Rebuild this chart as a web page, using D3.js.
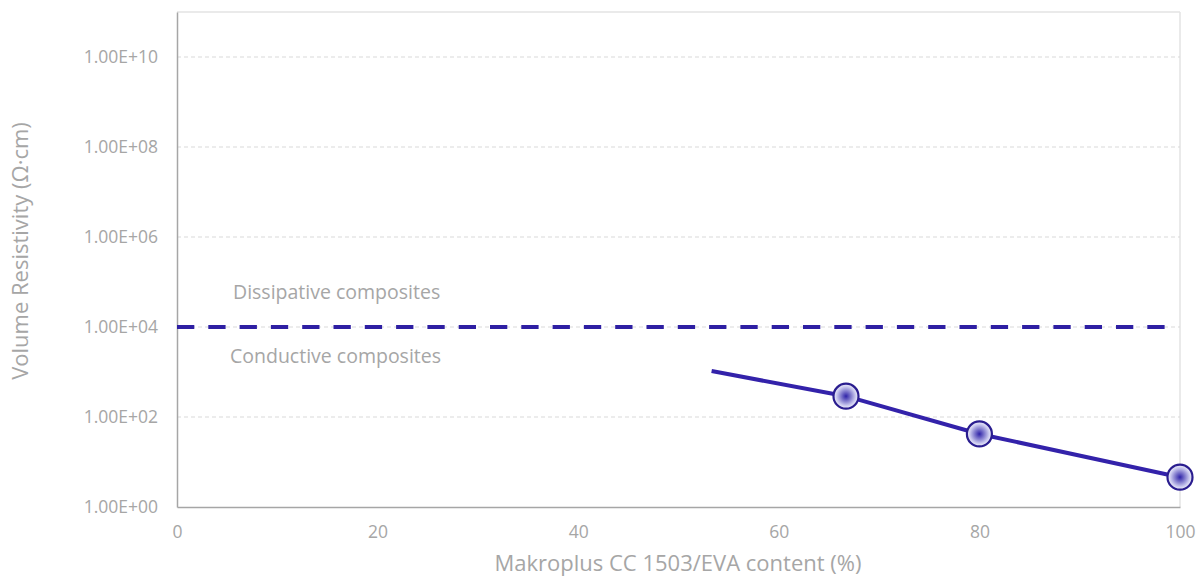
<!DOCTYPE html>
<html>
<head>
<meta charset="utf-8">
<script src="https://cdn.jsdelivr.net/npm/d3@7"></script>
<style>
  body { margin: 0; background: #fff; }
  text { font-family: "Open Sans", "Liberation Sans", sans-serif; fill: #a6a6a6; }
</style>
</head>
<body>
<svg id="chart" width="1198" height="578"></svg>
<script>
// data
var contentPct = [53.3, 66.7, 80, 100];            // x values of the series line
var resistivity = [1050, 290, 42, 4.6];           // Ohm.cm
var markerIdx = [1, 2, 3];                        // points drawn with a marker
var xTicks = [0, 20, 40, 60, 80, 100];
var yTicks = [1, 1e2, 1e4, 1e6, 1e8, 1e10];
var limitValue = [1e4];                           // dissipative / conductive limit
var zoneLabels = ["Dissipative composites", "Conductive composites"];

var svg = d3.select("#chart");
var plotL = 177, plotR = 1180, plotT = 12, plotB = 507;

var x = d3.scaleLinear().domain([0, 100]).range([plotL, plotR]);
var y = d3.scaleLog().domain([1, 1e11]).range([plotB, plotT]);

// radial gradient for markers
var grad = svg.append("defs").append("radialGradient").attr("id", "mk");
grad.append("stop").attr("offset", "0%").attr("stop-color", "#2f23a8");
grad.append("stop").attr("offset", "75%").attr("stop-color", "#c9c8ee");
grad.append("stop").attr("offset", "100%").attr("stop-color", "#f2f2fb");

// plot border (top / right, light)
svg.append("line").attr("x1", plotL).attr("x2", plotR).attr("y1", plotT).attr("y2", plotT)
   .attr("stroke", "#e3e3e3").attr("stroke-width", 1.5);
svg.append("line").attr("x1", plotR).attr("x2", plotR).attr("y1", plotT).attr("y2", plotB)
   .attr("stroke", "#e3e3e3").attr("stroke-width", 1.5);

// horizontal gridlines
svg.selectAll("line.grid")
   .data(yTicks.slice(1))
   .enter().append("line")
   .attr("class", "grid")
   .attr("x1", plotL).attr("x2", plotR)
   .attr("y1", function(d){ return y(d); })
   .attr("y2", function(d){ return y(d); })
   .attr("stroke", "#d9d9d9").attr("stroke-dasharray", "4,3");

// axes
var yAxis = svg.append("g").attr("transform", "translate(" + plotL + ",0)")
   .call(d3.axisLeft(y).tickValues(yTicks).tickSize(0).tickPadding(19)
      .tickFormat(function(d){
         var e = Math.round(Math.log10(d));
         return "1.00E+" + (e < 10 ? "0" + e : e);
      }));
yAxis.select(".domain").attr("stroke", "#a6a6a6").attr("stroke-width", 1.5);
yAxis.selectAll("text").style("font-size", "17.5px").attr("fill", "#a6a6a6");

var xAxis = svg.append("g").attr("transform", "translate(0," + plotB + ")")
   .call(d3.axisBottom(x).tickValues(xTicks).tickSize(0).tickPadding(19));
xAxis.select(".domain").attr("stroke", "#a6a6a6").attr("stroke-width", 1.5);
xAxis.selectAll("text").style("font-size", "17.5px").attr("fill", "#a6a6a6");

// axis titles
svg.append("text")
   .attr("transform", "translate(28,251) rotate(-90)")
   .attr("text-anchor", "middle").style("font-size", "22px")
   .text("Volume Resistivity (Ω·cm)");
svg.append("text")
   .attr("x", 678).attr("y", 571)
   .attr("text-anchor", "middle").style("font-size", "22px")
   .text("Makroplus CC 1503/EVA content (%)");

// limit line
svg.selectAll("line.limit")
   .data(limitValue)
   .enter().append("line")
   .attr("class", "limit")
   .attr("x1", plotL).attr("x2", 1166)
   .attr("y1", function(d){ return y(d); })
   .attr("y2", function(d){ return y(d); })
   .attr("stroke", "#2e1fa3").attr("stroke-width", 4)
   .attr("stroke-dasharray", "17.3,14");

// zone labels
svg.selectAll("text.zone")
   .data(zoneLabels)
   .enter().append("text")
   .attr("class", "zone")
   .attr("x", function(d, i){ return i === 0 ? 233 : 230; })
   .attr("y", function(d, i){ return y(limitValue[0]) + (i === 0 ? -28 : 36); })
   .style("font-size", "19.5px")
   .text(function(d){ return d; });

// series line
var pts = contentPct.map(function(c, i){ return [c, resistivity[i]]; });
svg.append("path")
   .datum(pts)
   .attr("fill", "none").attr("stroke", "#3322aa").attr("stroke-width", 4)
   .attr("d", d3.line().x(function(d){ return x(d[0]); }).y(function(d){ return y(d[1]); }));

// markers
svg.selectAll("circle.pt")
   .data(markerIdx.map(function(i){ return pts[i]; }))
   .enter().append("circle")
   .attr("class", "pt")
   .attr("cx", function(d){ return x(d[0]); })
   .attr("cy", function(d){ return y(d[1]); })
   .attr("r", 12.5)
   .attr("fill", "url(#mk)").attr("stroke", "#2a1d8f").attr("stroke-width", 2.2);
</script>
</body>
</html>
